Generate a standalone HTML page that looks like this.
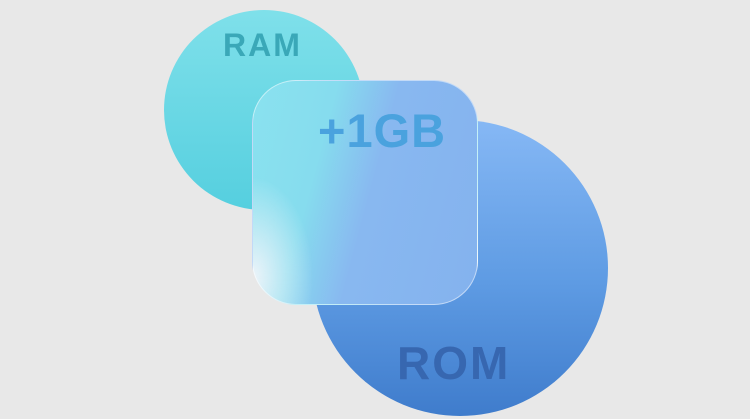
<!DOCTYPE html>
<html><head><style>
html,body{margin:0;padding:0}
body{width:750px;height:419px;background:#e8e8e8;position:relative;overflow:hidden;font-family:"Liberation Sans",sans-serif;font-weight:bold}
.c1{position:absolute;left:164px;top:10px;width:200px;height:200px;border-radius:50%;background:linear-gradient(180deg,#7fe0ea,#55cfdf)}
.c2{position:absolute;left:312px;top:120px;width:296px;height:296px;border-radius:50%;background:linear-gradient(180deg,#86b8f5 0%,#5e9be3 55%,#3f7ccc 100%)}
.sq{position:absolute;left:252px;top:80px;width:226px;height:225px;border-radius:44px;overflow:hidden;border:1px solid rgba(255,255,255,.5);box-sizing:border-box;
background:radial-gradient(ellipse 60px 100px at 0% 88%,rgba(242,245,250,.95),rgba(242,245,250,0) 100%),
linear-gradient(105deg,#8ae2ef 0%,#86dcee 30%,#88b8f0 52%,#84b2ee 100%)}
.t{position:absolute}
</style></head><body>
<div class="c1"></div>
<div class="c2"></div>
<div class="sq"></div>
<div class="t" style="left:223px;top:27px;font-size:32px;color:#3aa8b8;letter-spacing:2px">RAM</div>
<div class="t" style="left:318px;top:103px;font-size:47px;color:#4aa2de;letter-spacing:1px">+1GB</div>
<div class="t" style="left:397px;top:336px;font-size:46px;color:#3767b0;letter-spacing:2px">ROM</div>
</body></html>
